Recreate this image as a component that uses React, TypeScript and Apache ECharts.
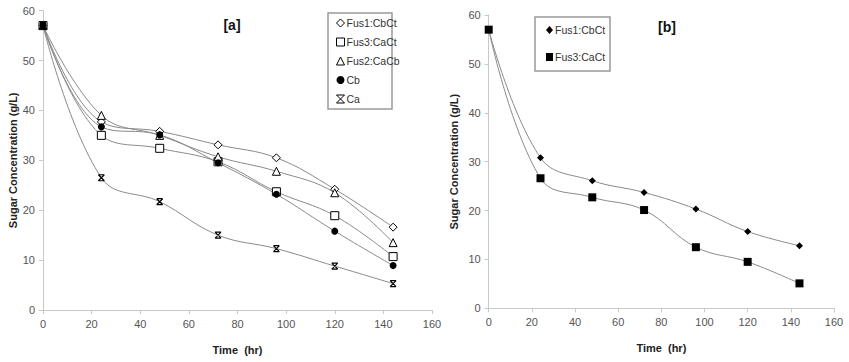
import React, { useEffect, useRef } from "react";
import * as echarts from "echarts";

const hours = [0, 24, 48, 72, 96, 120, 144];

// Panel [a]
const aFus1CbCt = [57, 37.7, 35.8, 33.1, 30.5, 24.2, 16.6];
const aFus3CaCt = [57, 35.0, 32.4, 29.7, 23.7, 18.9, 10.7];
const aFus2CaCb = [57, 39.0, 35.0, 30.7, 27.8, 23.5, 13.5];
const aCb = [57, 36.7, 35.1, 29.5, 23.2, 15.8, 8.9];
const aCa = [57, 26.5, 21.7, 15.0, 12.3, 8.8, 5.3];

// Panel [b]
const bFus1CbCt = [57, 30.8, 26.1, 23.7, 20.3, 15.7, 12.8];
const bFus3CaCt = [57, 26.6, 22.7, 20.1, 12.5, 9.5, 5.1];

const FONT = "Liberation Sans";
const X_MARK = "path://M0,0L10,0M0,0L10,10M10,0L0,10M0,10L10,10";

const pairs = (ys: number[]) => hours.map((h, i) => [h, ys[i]]);

export default function App() {
  const ref = useRef<HTMLDivElement>(null);
  useEffect(() => {
    if (!ref.current) return;
    const chart = echarts.init(ref.current, undefined, { renderer: "svg" });

    const axisCommon = {
      min: 0,
      axisLine: { lineStyle: { color: "#c8c8c8", width: 1 } },
      axisTick: { show: true, length: 4, lineStyle: { color: "#c8c8c8" } },
      splitLine: { show: false },
      axisLabel: { color: "#555", fontFamily: FONT, fontSize: 11, margin: 8 },
      nameLocation: "middle" as const,
      nameTextStyle: { fontFamily: FONT, fontSize: 11, fontWeight: "bold" as const, color: "#222" },
    };
    const xAxis = (gi: number, gap: number) => ({
      ...axisCommon,
      type: "value" as const,
      gridIndex: gi,
      max: 160,
      interval: 20,
      name: "Time  (hr)",
      nameGap: gap,
    });
    const yAxis = (gi: number, gap: number) => ({
      ...axisCommon,
      type: "value" as const,
      gridIndex: gi,
      max: 60,
      interval: 10,
      name: "Sugar Concentration (g/L)",
      nameGap: gap,
    });

    const hollow = { color: "#fff", borderColor: "#000", borderWidth: 1 };
    const solid = { color: "#000", borderColor: "#000", borderWidth: 0 };
    const xStyle = { color: "none", borderColor: "#000", borderWidth: 1.2 };

    const line = (name: string, data: number[], gi: number, symbol: string, size: number, style: any) => ({
      type: "line" as const,
      name,
      data: pairs(data),
      xAxisIndex: gi,
      yAxisIndex: gi,
      smooth: 0.4,
      symbol,
      symbolSize: size,
      showSymbol: true,
      lineStyle: { color: "#8a8a8a", width: 1 },
      itemStyle: style,
      z: 3,
    });

    const legendText = { fontFamily: FONT, fontSize: 10.5, color: "#333", lineHeight: 13, padding: [0, 0, 0, -3] };

    chart.setOption({
      animation: false,
      textStyle: { fontFamily: FONT },
      grid: [
        { left: 43, top: 10.6, width: 389, height: 299.4 },
        { left: 488.7, top: 15, width: 345.3, height: 293.3 },
      ],
      xAxis: [xAxis(0, 34), xAxis(1, 34)],
      yAxis: [yAxis(0, 25), yAxis(1, 29)],
      legend: [
        {
          orient: "vertical",
          left: 329,
          top: 11.5,
          itemWidth: 8,
          itemHeight: 8,
          itemGap: 6,
          textStyle: legendText,
          data: [
            { name: "Fus1:CbCt", icon: "diamond", itemStyle: hollow },
            { name: "Fus3:CaCt", icon: "rect", itemStyle: hollow },
            { name: "Fus2:CaCb", icon: "triangle", itemStyle: hollow },
            { name: "Cb", icon: "circle", itemStyle: solid },
            { name: "Ca", icon: X_MARK, itemStyle: { color: "none", borderColor: "#000", borderWidth: 1 } },
          ],
        },
        {
          orient: "vertical",
          left: 541,
          top: 18.5,
          itemWidth: 7,
          itemHeight: 8,
          itemGap: 14,
          textStyle: legendText,
          data: [
            { name: "Fus1:CbCt ", icon: "diamond", itemStyle: solid },
            { name: "Fus3:CaCt ", icon: "rect", itemStyle: solid },
          ],
        },
      ],
      graphic: [
        {
          type: "rect",
          shape: { x: 328, y: 13, width: 64, height: 96 },
          style: { fill: "none", stroke: "#999", lineWidth: 1.5 },
        },
        {
          type: "rect",
          shape: { x: 535, y: 17, width: 75, height: 54 },
          style: { fill: "none", stroke: "#999", lineWidth: 1.5 },
        },
        {
          type: "text",
          x: 232,
          y: 25,
          style: { text: "[a]", font: `bold 14px "${FONT}"`, fill: "#111", align: "center", verticalAlign: "middle" },
        },
        {
          type: "text",
          x: 667,
          y: 27,
          style: { text: "[b]", font: `bold 14px "${FONT}"`, fill: "#111", align: "center", verticalAlign: "middle" },
        },
      ],
      series: [
        line("Fus1:CbCt", aFus1CbCt, 0, "diamond", 8, hollow),
        line("Fus3:CaCt", aFus3CaCt, 0, "rect", 8, hollow),
        line("Fus2:CaCb", aFus2CaCb, 0, "triangle", 8, hollow),
        line("Cb", aCb, 0, "circle", 7, solid),
        line("Ca", aCa, 0, X_MARK, 6, xStyle),
        line("Fus1:CbCt ", bFus1CbCt, 1, "diamond", 7, solid),
        line("Fus3:CaCt ", bFus3CaCt, 1, "rect", 8, solid),
      ],
    });
    return () => chart.dispose();
  }, []);
  return (
    <div
      ref={ref}
      style={{ position: "fixed", left: 0, top: 0, width: 849, height: 362, background: "#fff" }}
    />
  );
}
